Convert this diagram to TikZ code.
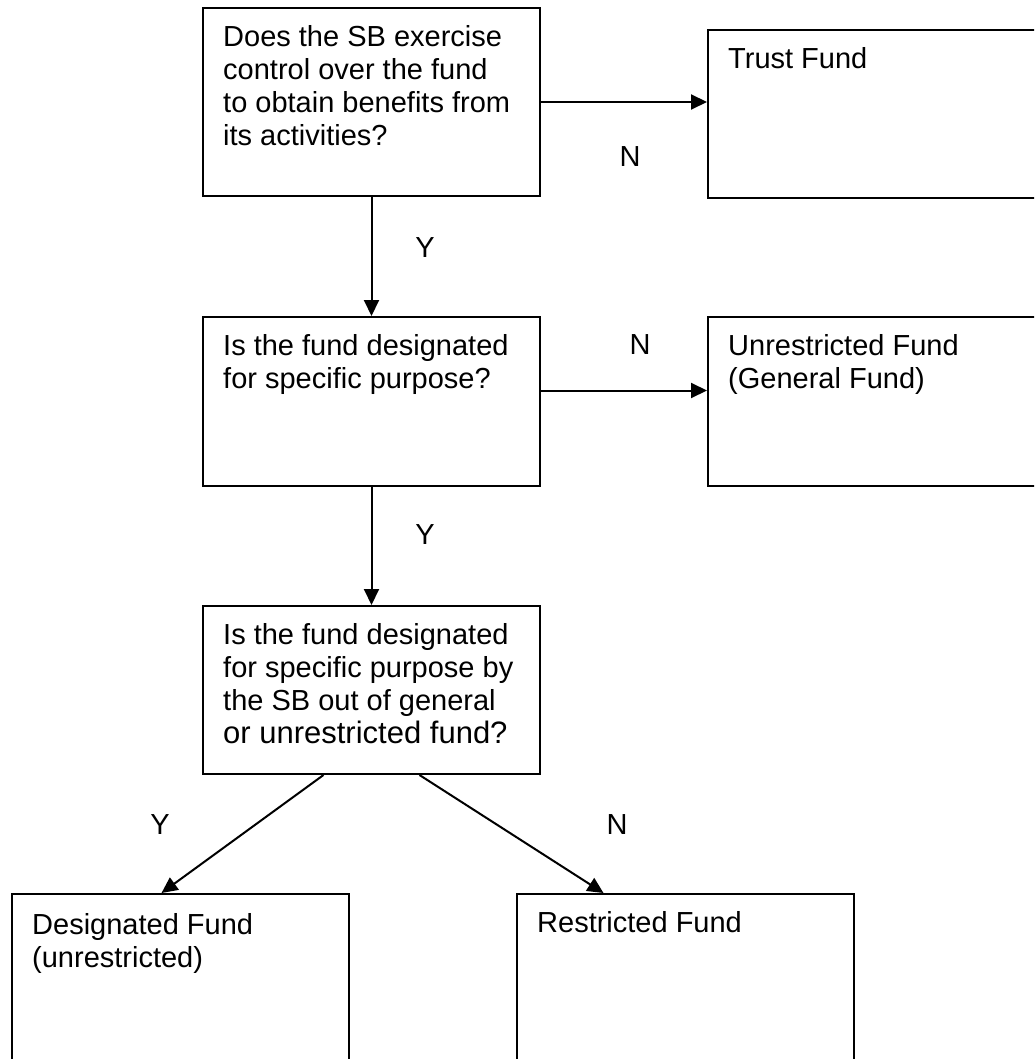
\documentclass[tikz,border=0pt]{standalone}
\usepackage{fontspec}
\setmainfont{Liberation Sans}
\usetikzlibrary{arrows.meta}

\begin{document}
\begin{tikzpicture}[x=1pt,y=1pt,
    box/.style={draw, line width=2pt, inner sep=0pt, anchor=north west, minimum width=337pt},
    txt/.style={anchor=north west, inner sep=0pt, align=left, font=\fontsize{29}{33}\selectfont},
    lbl/.style={font=\fontsize{29}{33}\selectfont},
    arr/.style={line width=2pt, -{Triangle[length=16pt,width=15pt]}}]
    \useasboundingbox (0,0) rectangle (1034,-1059);
    \clip (0,0) rectangle (1034,-1059);

    \node[box, minimum height=188pt] (q1) at (202,-7) {};
    \node[box, minimum height=168pt] (trust) at (707,-29) {};
    \node[box, minimum height=169pt] (q2) at (202,-316) {};
    \node[box, minimum height=169pt] (unres) at (707,-316) {};
    \node[box, minimum height=168pt] (q3) at (202,-605) {};
    \node[box, minimum height=220pt] (desig) at (11,-893) {};
    \node[box, minimum height=220pt] (restr) at (516,-893) {};

    \node[txt] (q1t) at ([shift={(21,-18)}]q1.north west) {Does the SB exercise\\control over the fund\\to obtain benefits from\\its activities?};
    \node[txt] (trustt) at ([shift={(21,-18)}]trust.north west) {Trust Fund};
    \node[txt] (q2t) at ([shift={(21,-18)}]q2.north west) {Is the fund designated\\for specific purpose?};
    \node[txt] (unrest) at ([shift={(21,-18)}]unres.north west) {Unrestricted Fund\\(General Fund)};
    \node[txt] (q3t) at ([shift={(21,-18)}]q3.north west) {Is the fund designated\\for specific purpose by\\the SB out of general\\{\fontsize{31}{35}\selectfont or unrestricted fund?}};
    \node[txt] (desigt) at ([shift={(21,-20)}]desig.north west) {Designated Fund\\(unrestricted)};
    \node[txt] (restrt) at ([shift={(21,-18)}]restr.north west) {Restricted Fund};

    \draw[arr] (q1.east) -- (q1.east -| trust.west);
    \draw[arr] (q1.south) -- (q2.north);
    \draw[arr] ([yshift=11pt]q2.east) -- ([yshift=11pt]q2.east -| unres.west);
    \draw[arr] (q2.south) -- (q3.north);
    \draw[arr] ([xshift=-48pt]q3.south) -- ([xshift=-19pt]desig.north);
    \draw[arr] ([xshift=48pt]q3.south) -- ([xshift=-82pt]restr.north);

    \node[lbl] (n1) at (630,-157) {N};
    \node[lbl] (y1) at (425,-248) {Y};
    \node[lbl] (n2) at (640,-345) {N};
    \node[lbl] (y2) at (425,-535) {Y};
    \node[lbl] (y3) at (160,-825) {Y};
    \node[lbl] (n3) at (617,-825) {N};
\end{tikzpicture}
\end{document}
